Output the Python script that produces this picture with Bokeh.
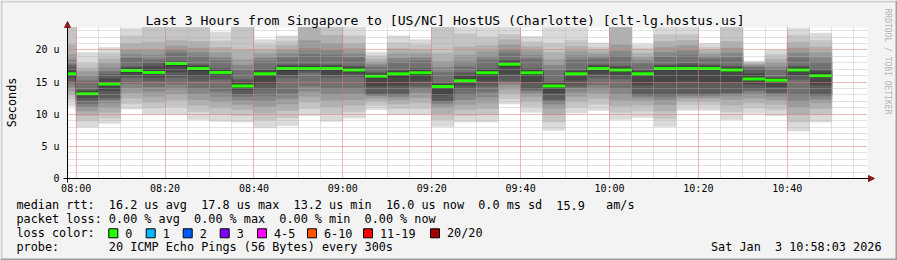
import math
from bokeh.plotting import figure
from bokeh.models import (Range1d, SingleIntervalTicker, Label, BoxAnnotation,
                          Arrow, NormalHead, ColumnDataSource)
from bokeh.embed import file_html
from bokeh.resources import INLINE

# ---------------- data ----------------
title_text = "Last 3 Hours from Singapore to [US/NC] HostUS (Charlotte) [clt-lg.hostus.us]"
range_start = "07:58:03"
range_end = "10:58:03"
step_minutes = 5
bar_starts = ["07:55", "08:00", "08:05", "08:10", "08:15", "08:20", "08:25", "08:30",
              "08:35", "08:40", "08:45", "08:50", "08:55", "09:00", "09:05", "09:10",
              "09:15", "09:20", "09:25", "09:30", "09:35", "09:40", "09:45", "09:50",
              "09:55", "10:00", "10:05", "10:10", "10:15", "10:20", "10:25", "10:30",
              "10:35", "10:40", "10:45"]
median_us = [16.3, 13.2, 14.7, 16.8, 16.5, 17.9, 17.1, 16.5, 14.4, 16.3, 17.1, 17.1,
             17.1, 16.9, 15.9, 16.3, 16.45, 14.3, 15.2, 16.45, 17.8, 16.45, 14.4, 16.3,
             17.1, 16.9, 16.3, 17.1, 17.1, 17.1, 16.9, 15.5, 15.3, 16.9, 16.0]

# sorted ping rtts (us) per 5-minute step, as shown by the smoke bands
s0755 = [11.3, 12.3, 13.0, 13.6, 14.2, 14.8, 15.2, 15.8, 16.1, 16.5, 16.9, 17.5, 17.8, 18.5, 19.3, 20.8, 24.0, 25.0]
s0800 = [8.0, 9.0, 9.8, 10.5, 11.1, 11.6, 12.1, 12.6, 13.0, 13.4, 13.6, 13.8, 15.2, 15.9, 16.6, 17.2, 17.9, 19.6]
s0805 = [8.6, 9.4, 10.3, 11.0, 11.8, 12.3, 12.6, 13.7, 14.5, 14.9, 15.5, 16.2, 16.6, 17.2, 17.9, 18.6, 19.5, 20.4]
s0810 = [10.8, 11.6, 12.5, 13.3, 14.1, 14.8, 15.7, 16.2, 16.6, 17.0, 17.2, 17.4, 18.7, 19.3, 20.0, 21.0, 22.2, 23.4]
s0815 = [10.0, 11.0, 11.9, 12.8, 13.6, 14.3, 15.2, 15.8, 16.3, 16.7, 17.4, 18.0, 18.5, 19.2, 20.0, 21.2, 23.8, 25.0]
s0820 = [10.0, 11.2, 12.2, 13.1, 13.9, 14.7, 15.7, 16.6, 17.6, 18.0, 18.1, 18.2, 19.5, 20.0, 20.6, 21.5, 24.0, 25.0]
s0825 = [9.2, 10.4, 11.4, 12.3, 13.2, 14.0, 15.2, 16.0, 16.8, 17.3, 17.5, 17.7, 19.0, 19.6, 20.3, 21.3, 23.8, 25.0]
s0830 = [8.9, 10.0, 11.0, 11.9, 12.8, 13.6, 15.4, 15.9, 16.4, 16.7, 16.9, 17.1, 18.3, 18.9, 19.6, 20.4, 21.4, 22.8]
s0835 = [8.8, 9.8, 10.7, 11.5, 12.2, 12.8, 13.1, 13.8, 14.3, 14.6, 15.0, 15.4, 16.8, 17.6, 18.5, 20.0, 24.0, 25.0]
s0840 = [7.9, 9.1, 10.2, 11.2, 12.1, 12.9, 13.9, 14.8, 16.0, 16.5, 16.8, 17.0, 18.2, 18.8, 19.4, 20.0, 20.8, 21.6]
s0845 = [8.2, 9.5, 10.6, 11.6, 12.5, 13.3, 15.7, 16.2, 16.8, 17.3, 17.5, 17.7, 18.8, 19.4, 20.0, 20.7, 21.4, 22.2]
s0850 = [9.8, 10.9, 11.9, 12.8, 13.6, 14.4, 16.5, 16.8, 17.0, 17.3, 17.5, 17.8, 19.3, 20.2, 21.5, 23.8, 24.5, 25.0]
s0855 = [8.9, 10.1, 11.2, 12.2, 13.1, 14.0, 15.7, 16.2, 16.9, 17.3, 17.5, 17.7, 19.2, 20.0, 21.0, 22.3, 23.8, 25.0]
s0900 = [9.4, 10.4, 11.4, 12.3, 13.2, 14.0, 15.9, 16.3, 16.7, 17.1, 17.3, 17.5, 18.8, 19.4, 20.2, 21.0, 22.2, 24.5]
s0905 = [10.7, 11.4, 12.0, 12.5, 12.9, 13.0, 13.2, 14.4, 15.6, 16.1, 16.3, 16.5, 17.3, 17.7, 18.1, 18.6, 19.1, 19.65]
s0910 = [9.95, 10.9, 11.6, 12.2, 12.7, 13.0, 13.2, 14.5, 15.9, 16.5, 16.7, 16.9, 18.1, 18.7, 19.4, 20.2, 21.1, 22.2]
s0915 = [9.95, 10.9, 11.8, 12.6, 13.4, 14.0, 14.4, 15.2, 16.1, 16.7, 16.9, 17.1, 18.3, 18.8, 19.4, 20.0, 20.8, 21.6]
s0920 = [8.1, 9.2, 10.1, 11.0, 11.6, 11.9, 12.1, 13.0, 14.0, 14.5, 14.7, 14.9, 16.5, 17.3, 18.2, 19.5, 23.8, 25.0]
s0925 = [8.8, 9.8, 10.7, 11.5, 12.3, 13.0, 13.9, 14.5, 15.0, 15.4, 16.0, 16.5, 17.4, 18.2, 19.2, 20.5, 22.5, 24.5]
s0930 = [8.8, 9.9, 10.9, 11.8, 12.7, 13.5, 14.4, 15.2, 16.2, 16.7, 16.9, 17.1, 18.4, 19.0, 19.8, 20.7, 22.0, 24.5]
s0935 = [11.6, 12.4, 13.2, 13.9, 14.6, 15.0, 15.2, 16.3, 17.5, 18.0, 18.2, 18.4, 19.5, 20.1, 20.8, 21.6, 22.4, 24.5]
s0940 = [10.3, 11.2, 12.0, 12.8, 13.3, 13.7, 13.9, 15.0, 16.2, 16.7, 16.9, 17.1, 18.6, 19.2, 19.9, 20.6, 21.3, 22.1]
s0945 = [7.5, 8.8, 9.9, 10.9, 11.6, 12.0, 12.3, 13.3, 14.2, 14.6, 14.8, 15.0, 16.8, 17.6, 18.5, 19.6, 21.0, 24.5]
s0950 = [10.2, 11.1, 12.0, 12.8, 13.5, 14.1, 14.4, 15.3, 16.1, 16.5, 16.7, 16.9, 18.4, 19.1, 19.8, 20.6, 21.5, 24.5]
s0955 = [10.6, 11.5, 12.4, 13.2, 13.9, 14.6, 15.7, 16.3, 16.9, 17.3, 17.5, 17.7, 18.6, 19.0, 19.4, 19.9, 20.4, 21.1]
s1000 = [9.2, 10.3, 11.3, 12.2, 13.1, 14.0, 15.5, 16.1, 16.7, 17.1, 17.3, 17.5, 19.0, 19.8, 20.8, 23.8, 24.5, 25.0]
s1005 = [9.5, 10.5, 11.4, 12.1, 12.6, 12.9, 13.1, 14.6, 16.1, 16.5, 16.7, 16.9, 17.9, 18.4, 18.9, 19.5, 20.2, 20.9]
s1010 = [8.1, 9.3, 10.5, 11.5, 12.3, 12.8, 13.1, 15.0, 16.9, 17.3, 17.5, 17.7, 18.9, 19.6, 20.4, 21.3, 22.4, 24.5]
s1015 = [10.6, 11.4, 12.0, 12.5, 12.8, 13.0, 13.2, 15.2, 16.9, 17.3, 17.6, 17.9, 19.2, 19.9, 20.7, 21.5, 22.4, 24.5]
s1020 = [10.6, 11.4, 12.0, 12.5, 12.8, 13.0, 13.2, 15.0, 16.9, 17.3, 17.5, 17.7, 18.6, 19.0, 19.4, 19.9, 20.4, 21.0]
s1025 = [9.2, 10.4, 11.4, 12.3, 12.9, 13.2, 13.4, 15.0, 16.7, 17.1, 17.3, 17.5, 18.8, 19.5, 20.3, 21.3, 23.8, 25.0]
s1030 = [10.1, 11.0, 11.8, 12.5, 13.1, 13.6, 13.9, 14.7, 15.3, 15.7, 16.3, 17.0, 17.3, 17.5, 17.7, 17.9, 18.1, 18.25]
s1035 = [9.8, 10.7, 11.5, 12.2, 12.8, 13.2, 13.4, 14.3, 15.1, 15.5, 15.6, 15.7, 16.9, 17.4, 18.0, 18.6, 19.3, 20.0]
s1040 = [7.4, 8.8, 10.0, 11.1, 12.1, 13.0, 15.4, 16.1, 16.7, 17.1, 17.3, 17.5, 18.8, 19.5, 20.3, 21.2, 22.3, 23.4]
s1045 = [8.8, 9.9, 10.9, 11.8, 12.4, 12.9, 13.1, 14.6, 15.8, 16.3, 16.7, 17.0, 18.1, 18.8, 19.6, 20.5, 21.5, 22.6]

smoke_rows = [s0755, s0800, s0805, s0810, s0815, s0820, s0825, s0830, s0835, s0840,
              s0845, s0850, s0855, s0900, s0905, s0910, s0915, s0920, s0925, s0930,
              s0935, s0940, s0945, s0950, s0955, s1000, s1005, s1010, s1015, s1020,
              s1025, s1030, s1035, s1040, s1045]

smoke_grays = ["#dadada", "#c5c5c5", "#b0b0b0", "#9b9b9b", "#868686",
               "#717171", "#5c5c5c", "#474747", "#323232"]

y_max_us = 23.5
x_tick_labels = ["08:00", "08:20", "08:40", "09:00", "09:20", "09:40", "10:00", "10:20", "10:40"]
y_tick_values = [0, 5, 10, 15, 20]
y_tick_labels = ["0", "5 u", "10 u", "15 u", "20 u"]

legend_rtt = "median rtt:  16.2 us avg  17.8 us max  13.2 us min  16.0 us now  0.0 ms sd  15.9   am/s"
legend_loss = "packet loss: 0.00 % avg  0.00 % max  0.00 % min  0.00 % now"
legend_color_head = "loss color:"
loss_labels = ["0", "1", "2", "3", "4-5", "6-10", "11-19", "20/20"]
loss_colors = ["#26ff00", "#00b8ff", "#0059ff", "#7e00ff", "#ff00ff", "#ff5500", "#ff0000", "#a10000"]
probe_text = "probe:       20 ICMP Echo Pings (56 Bytes) every 300s"
stamp_text = "Sat Jan  3 10:58:03 2026"
watermark = "RRDTOOL / TOBI OETIKER"
y_axis_title = "Seconds"

# ---------------- layout constants (canvas pixels, y down) ----------------
W, H = 897, 260
FL, FR, FT, FB = 67, 867, 27, 178     # graph area edges
MONO = "DejaVu Sans Mono"
LEG_SIZE = 11.8
CW = 0.602 * LEG_SIZE                 # monospace advance


def to_min(s):
    parts = [int(v) for v in s.split(":")]
    while len(parts) < 3:
        parts.append(0)
    return parts[0] * 60 + parts[1] + parts[2] / 60.0


x0 = to_min(range_start)
x1 = to_min(range_end)
ppx = (FR - FL) / (x1 - x0)          # pixels per minute
ppy = (FB - FT) / y_max_us           # pixels per us


def xd(X):   # canvas px -> data x
    return x0 + (X - FL) / ppx


def yd(Y):   # canvas px -> data y
    return (FB - Y) / ppy


p = figure(width=W, height=H, output_backend="svg", toolbar_location=None, title=None,
           x_range=Range1d(xd(0), xd(W)), y_range=Range1d(yd(H), yd(0)), min_border=0)
p.border_fill_color = "#f3f3f3"
p.background_fill_color = "#f3f3f3"
p.outline_line_color = None

# white canvas of the graph
p.add_layout(BoxAnnotation(left=x0, right=x1, bottom=0, top=y_max_us, fill_color="#ffffff",
                           fill_alpha=1.0, line_color=None, level="underlay"))

# smoke
lefts = [max(to_min(t), x0) for t in bar_starts]
rights = [to_min(t) + step_minutes for t in bar_starts]
for band, gray in enumerate(smoke_grays):
    src = ColumnDataSource(dict(
        left=lefts, right=rights,
        bottom=[min(row[band], y_max_us) for row in smoke_rows],
        top=[min(row[len(row) - 1 - band], y_max_us) for row in smoke_rows]))
    p.quad(left="left", right="right", bottom="bottom", top="top", source=src,
           fill_color=gray, line_color=gray, line_width=0.6)

# median: dark step line + green loss-coloured bars
p.step(x=lefts + [rights[-1]], y=median_us + [median_us[-1]], mode="after",
       line_color="#202020", line_width=1)
p.segment(x0=lefts, x1=rights, y0=median_us, y1=median_us,
          line_color=loss_colors[0], line_width=3, line_cap="butt")

# axes (fixed inside the canvas)
xt = SingleIntervalTicker(interval=20, num_minor_ticks=4)
yt = SingleIntervalTicker(interval=5, num_minor_ticks=5)
p.xaxis.ticker = xt
p.yaxis.ticker = yt
p.xaxis.fixed_location = 0
p.yaxis.fixed_location = x0
p.xaxis.bounds = (x0, x1)
p.yaxis.bounds = (0, y_max_us)
p.xaxis.major_label_overrides = {int(round(to_min(t))): t for t in x_tick_labels}
p.yaxis.major_label_overrides = {v: s for v, s in zip(y_tick_values, y_tick_labels)}
for ax in (p.xaxis[0], p.yaxis[0]):
    ax.axis_line_color = "#000000"
    ax.axis_line_width = 1
    ax.major_tick_line_color = None
    ax.minor_tick_line_color = None
    ax.major_tick_out = 0
    ax.major_tick_in = 0
    ax.minor_tick_out = 0
    ax.minor_tick_in = 0
    ax.major_label_text_font = MONO
    ax.major_label_text_font_size = "10px"
    ax.major_label_text_color = "#000000"
p.xaxis.major_label_standoff = 4
p.yaxis.major_label_standoff = 8

grids = [(p.xgrid[0], xt, (x0, x1), (0, y_max_us)), (p.ygrid[0], yt, (0, y_max_us), (x0, x1))]
for g, tk, bnd, cbnd in grids:
    g.ticker = tk
    g.bounds = bnd
    g.cross_bounds = cbnd
    g.level = "guide"
    g.grid_line_color = "#ff5050"
    g.grid_line_alpha = 0.55
    g.grid_line_dash = "1 1"
    g.minor_grid_line_color = "#b0b0b0"
    g.minor_grid_line_alpha = 0.75
    g.minor_grid_line_dash = "1 1"

# axis arrows
head = dict(fill_color="#8b1a1a", line_color="#8b1a1a", line_width=1)
p.add_layout(Arrow(x_start=xd(FL - 4), y_start=0, x_end=xd(874), y_end=0,
                   line_color="#000000", line_width=1, end=NormalHead(size=6, **head)))
p.add_layout(Arrow(x_start=x0, y_start=yd(FB + 4), x_end=x0, y_end=yd(21),
                   line_color="#000000", line_width=1, end=NormalHead(size=6, **head)))


def label(text, X, Y, size=LEG_SIZE, align="left", baseline="middle", angle=0.0, color="#000000"):
    p.add_layout(Label(x=X, y=H - Y, x_units="screen", y_units="screen", text=text,
                       text_font=MONO, text_font_size="%.1fpx" % size, text_color=color,
                       text_align=align, text_baseline=baseline, angle=angle))


def mono_line(text, X, Y):
    # place chunks separated by runs of spaces at their monospace columns
    i = 0
    n = len(text)
    while i < n:
        if text[i] == " ":
            i += 1
            continue
        j = i
        while j < n and not (text[j] == " " and (j + 1 >= n or text[j + 1] == " ")):
            j += 1
        label(text[i:j], X + i * CW, Y)
        i = j


label(title_text, 444.5, 19.5, size=13.1, align="center")
label(y_axis_title, 11, 102, angle=math.pi / 2, align="center")
label(watermark, 887, 61, size=8, align="center", angle=-math.pi / 2, color="#b4b4b4")
mono_line(legend_rtt, 16, 204.5)
mono_line(legend_loss, 16, 218.5)
mono_line(legend_color_head, 16, 232.5)
mono_line(probe_text, 16, 246.5)
mono_line(stamp_text, 881 - len(stamp_text) * CW, 246.5)

swatch_x = [108.3, 145.7, 182.7, 219.7, 257.0, 307.0, 363.0, 430.0]
for sx, col, txt in zip(swatch_x, loss_colors, loss_labels):
    p.add_layout(BoxAnnotation(left=sx, right=sx + 9, top=H - 228.3, bottom=H - 237.3,
                               left_units="screen", right_units="screen",
                               top_units="screen", bottom_units="screen",
                               fill_color=col, fill_alpha=1.0, line_color="#000000",
                               line_alpha=1.0, line_width=1))
    label(txt, sx + 16.5, 232.5)

# 3D border
for (l, r, t, b, c) in [(0, W, 0, 2, "#cfcfcf"), (0, 2, 0, H, "#cfcfcf"),
                        (0, W, H - 2, H, "#9e9e9e"), (W - 2, W, 0, H, "#9e9e9e")]:
    p.add_layout(BoxAnnotation(left=l, right=r, top=H - t, bottom=H - b,
                               left_units="screen", right_units="screen",
                               top_units="screen", bottom_units="screen",
                               fill_color=c, fill_alpha=1.0, line_color=None))

open("out.html", "w").write(file_html(p, INLINE))
